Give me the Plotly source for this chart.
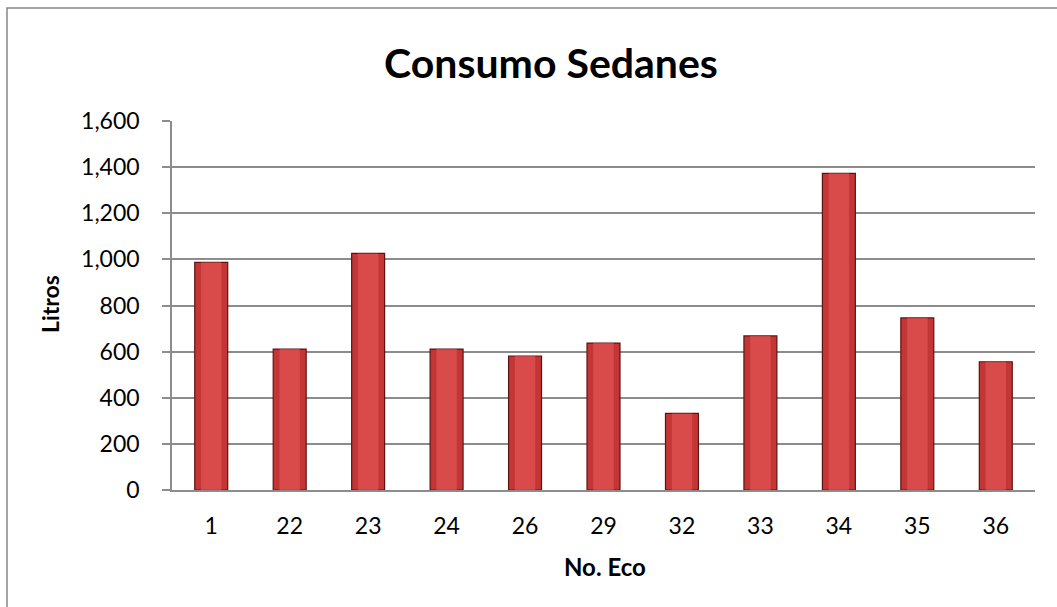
import plotly.graph_objects as go

categories = ["1", "22", "23", "24", "26", "29", "32", "33", "34", "35", "36"]
litros = [987, 611, 1026, 611, 581, 637, 332, 668, 1373, 746, 556]
y_ticks = [0, 200, 400, 600, 800, 1000, 1200, 1400, 1600]
y_tick_labels = ["0", "200", "400", "600", "800", "1,000", "1,200", "1,400", "1,600"]

FONT = "Lato"

fig = go.Figure()
fig.add_trace(go.Bar(
    x=categories, y=litros,
    marker=dict(color="#C43636", line=dict(color="#5E1212", width=1.2)),
    width=0.42,
    hoverinfo="x+y",
))
# lighter center highlight to mimic bevel
fig.add_trace(go.Bar(
    x=categories, y=litros,
    marker=dict(color="rgba(232,88,88,0.6)", line=dict(width=0)),
    width=0.26,
    hoverinfo="skip",
))

W, H = 1057, 607
L, R, T, B = 172, 22, 121, 117
pw, ph = W - L - R, H - T - B

def px_x(x):
    return (x - L) / pw

def px_y(y):
    return (H - B - y) / ph

fig.update_layout(
    width=W, height=H,
    margin=dict(l=L, r=R, t=T, b=B),
    paper_bgcolor="white", plot_bgcolor="white",
    barmode="overlay",
    showlegend=False,
    title=dict(text="<b>Consumo Sedanes</b>", x=551 / W, xanchor="center",
               y=1 - 64 / H, yanchor="middle",
               font=dict(family=FONT, size=41, color="black")),
    font=dict(family=FONT, color="black"),
    xaxis=dict(
        type="category", showgrid=False, showline=True, linecolor="#8C8C8C", linewidth=2,
        ticks="", tickfont=dict(size=23, family=FONT, color="black"),
        ticklabelstandoff=14,
    ),
    yaxis=dict(
        range=[0, 1600], tickmode="array", tickvals=y_ticks, ticktext=y_tick_labels,
        showgrid=True, gridcolor="#8C8C8C", gridwidth=1.5,
        showline=True, linecolor="#8C8C8C", linewidth=1.5,
        ticks="outside", ticklen=8, tickcolor="#8C8C8C", tickwidth=1.5,
        tickfont=dict(size=23, family=FONT, color="black"),
        ticklabelstandoff=18,
        zeroline=False,
    ),
)

fig.add_annotation(text="<b>No. Eco</b>", xref="paper", yref="paper",
                   x=px_x(605), y=px_y(566), xanchor="center", yanchor="middle",
                   showarrow=False, font=dict(size=24, family=FONT, color="black"))
fig.add_annotation(text="<b>Litros</b>", xref="paper", yref="paper",
                   x=px_x(50), y=px_y(304), xanchor="center", yanchor="middle",
                   textangle=-90,
                   showarrow=False, font=dict(size=23, family=FONT, color="black"))

fig.add_shape(type="rect", xref="paper", yref="paper",
              x0=px_x(7), x1=px_x(W + 10),
              y0=px_y(H + 10), y1=px_y(8),
              line=dict(color="#868686", width=1.5), fillcolor="rgba(0,0,0,0)", layer="below")

fig.write_html("out.html", config={"displayModeBar": False},
               post_script="document.body.style.margin='0';document.body.style.overflow='hidden';")
